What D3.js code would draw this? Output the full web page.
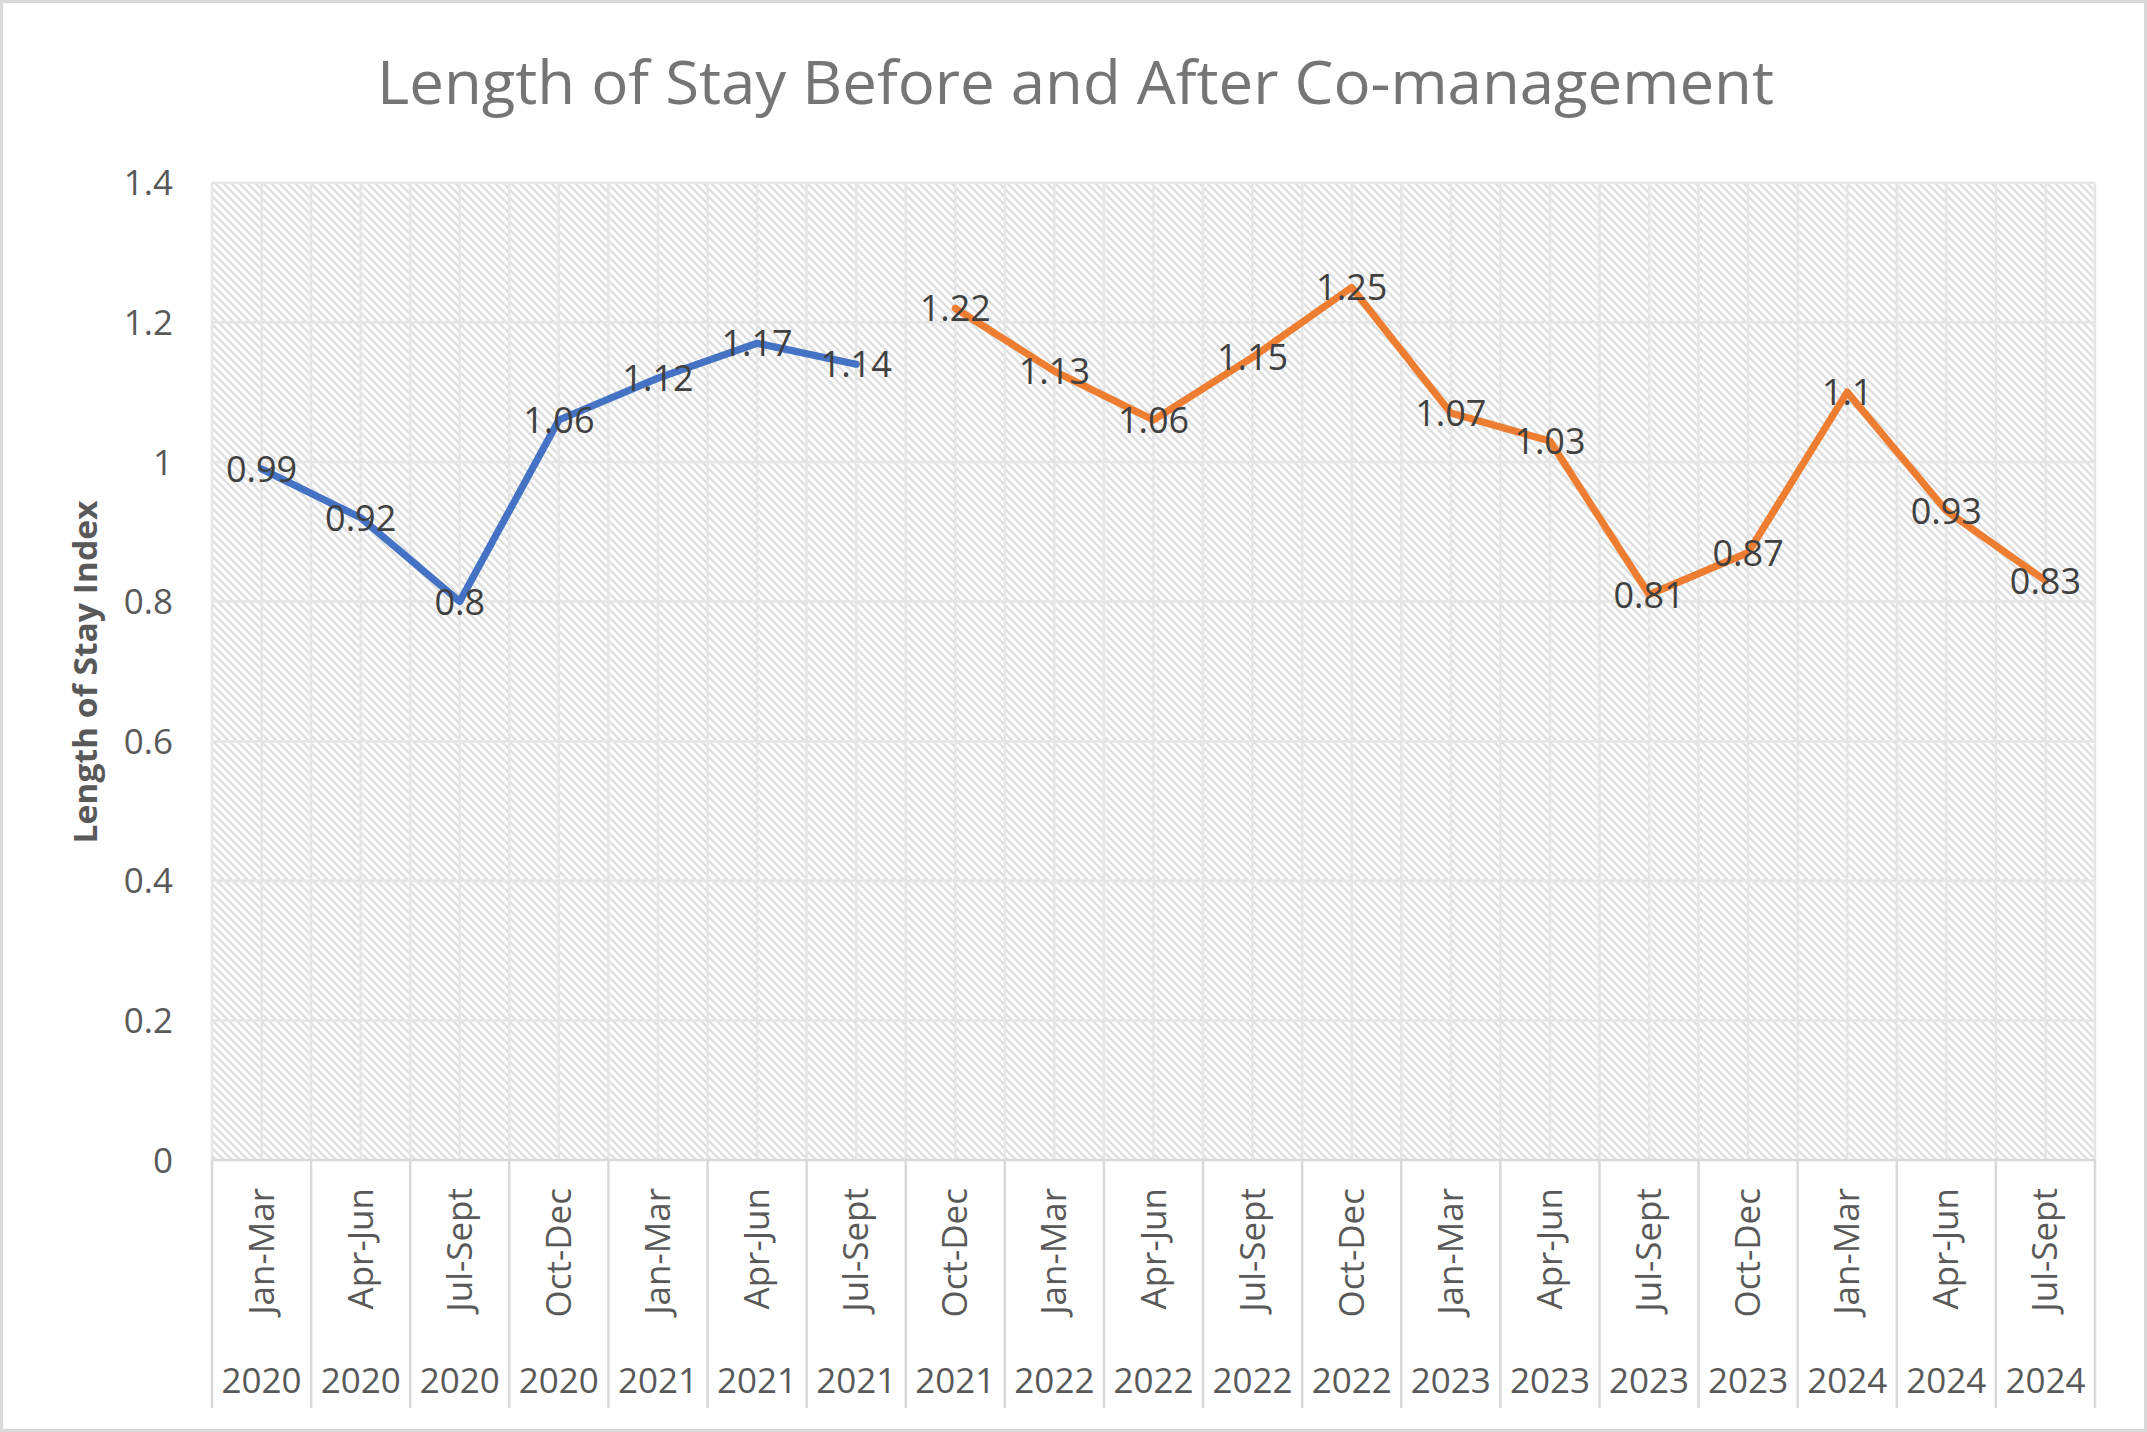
<!DOCTYPE html>
<html>
<head>
<meta charset="utf-8">
<script src="https://cdn.jsdelivr.net/npm/d3@7"></script>
<style>
    html, body { margin: 0; padding: 0; background: #fff; }
    svg { display: block; }
    text { font-family: "Open Sans", sans-serif; }
</style>
</head>
<body>
<svg id="chart" width="2147" height="1432"></svg>
<script>
const W = 2147;
const H = 1432;

const TITLE = "Length of Stay Before and After Co-management";
const Y_TITLE = "Length of Stay Index";

const quarters = ["Jan-Mar", "Apr-Jun", "Jul-Sept", "Oct-Dec",
    "Jan-Mar", "Apr-Jun", "Jul-Sept", "Oct-Dec",
    "Jan-Mar", "Apr-Jun", "Jul-Sept", "Oct-Dec",
    "Jan-Mar", "Apr-Jun", "Jul-Sept", "Oct-Dec",
    "Jan-Mar", "Apr-Jun", "Jul-Sept"];
const years = ["2020", "2020", "2020", "2020",
    "2021", "2021", "2021", "2021",
    "2022", "2022", "2022", "2022",
    "2023", "2023", "2023", "2023",
    "2024", "2024", "2024"];

// before co-management (blue) and after (orange)
const before = [0.99, 0.92, 0.8, 1.06, 1.12, 1.17, 1.14,
    null, null, null, null, null, null, null, null, null, null, null, null];
const after = [null, null, null, null, null, null, null,
    1.22, 1.13, 1.06, 1.15, 1.25, 1.07, 1.03, 0.81, 0.87, 1.1, 0.93, 0.83];

const yTicks = [0, 0.2, 0.4, 0.6, 0.8, 1, 1.2, 1.4];

const plot = { left: 212, right: 2095, top: 182.7, bottom: 1160 };

const svg = d3.select("#chart");

// outer frame
svg.append("rect")
    .attr("x", 1.5).attr("y", 1.5)
    .attr("width", W - 3).attr("height", H - 3)
    .attr("fill", "#fff")
    .attr("stroke", "#d9d9d9")
    .attr("stroke-width", 3);

// hatch pattern for plot area
const defs = svg.append("defs");
const pat = defs.append("pattern")
    .attr("id", "hatch")
    .attr("patternUnits", "userSpaceOnUse")
    .attr("width", 8).attr("height", 8);
pat.append("rect").attr("width", 8).attr("height", 8).attr("fill", "#fff");
pat.append("path")
    .attr("d", "M-2,-2 L10,10 M-2,6 L2,10 M6,-2 L10,2")
    .attr("stroke", "#dedede")
    .attr("stroke-width", 2.3);

const x = d3.scaleBand()
    .domain(d3.range(quarters.length))
    .range([plot.left, plot.right])
    .padding(0);
const y = d3.scaleLinear()
    .domain([0, 1.4])
    .range([plot.bottom, plot.top]);
const cx = i => x(i) + x.bandwidth() / 2;

svg.append("rect")
    .attr("x", plot.left).attr("y", plot.top)
    .attr("width", plot.right - plot.left)
    .attr("height", plot.bottom - plot.top)
    .attr("fill", "url(#hatch)");

// gridlines
const grid = svg.append("g").attr("stroke", "#e6e6e6").attr("stroke-width", 2.5);
yTicks.filter(t => t > 0).forEach(t => {
    grid.append("line")
        .attr("x1", plot.left).attr("x2", plot.right)
        .attr("y1", y(t)).attr("y2", y(t));
});
const vLines = [];
d3.range(quarters.length).forEach(i => { vLines.push(x(i)); vLines.push(cx(i)); });
vLines.push(plot.right);
vLines.forEach(vx => {
    grid.append("line")
        .attr("x1", vx).attr("x2", vx)
        .attr("y1", plot.top).attr("y2", plot.bottom);
});

// x axis with two-level labels
const axisG = svg.append("g").attr("stroke", "#d9d9d9").attr("stroke-width", 2.5);
axisG.append("line")
    .attr("x1", plot.left).attr("x2", plot.right)
    .attr("y1", plot.bottom).attr("y2", plot.bottom);
d3.range(quarters.length + 1).forEach(i => {
    const bx = i < quarters.length ? x(i) : plot.right;
    axisG.append("line")
        .attr("x1", bx).attr("x2", bx)
        .attr("y1", plot.bottom).attr("y2", 1408);
});

svg.append("g").selectAll("text")
    .data(quarters)
    .join("text")
    .attr("transform", (d, i) => `translate(${cx(i) + 12},1188) rotate(-90)`)
    .attr("text-anchor", "end")
    .attr("font-size", 35)
    .attr("fill", "#595959")
    .text(d => d);

svg.append("g").selectAll("text")
    .data(years)
    .join("text")
    .attr("x", (d, i) => cx(i))
    .attr("y", 1393)
    .attr("text-anchor", "middle")
    .attr("font-size", 35)
    .attr("fill", "#595959")
    .text(d => d);

// y axis labels
svg.append("g").selectAll("text")
    .data(yTicks)
    .join("text")
    .attr("x", 173)
    .attr("y", d => y(d))
    .attr("dy", "0.36em")
    .attr("text-anchor", "end")
    .attr("font-size", 35)
    .attr("fill", "#595959")
    .text(d => d3.format("~g")(d));

svg.append("text")
    .attr("transform", `translate(97,672) rotate(-90)`)
    .attr("text-anchor", "middle")
    .attr("font-size", 32)
    .attr("font-weight", "bold")
    .attr("fill", "#595959")
    .attr("textLength", 343)
    .attr("lengthAdjust", "spacingAndGlyphs")
    .text(Y_TITLE);

// title
svg.append("text")
    .attr("x", (plot.left + plot.right) / 2 - 78)
    .attr("y", 104)
    .attr("text-anchor", "middle")
    .attr("font-size", 60)
    .attr("fill", "#757575")
    .attr("textLength", 1397)
    .attr("lengthAdjust", "spacingAndGlyphs")
    .text(TITLE);

// lines
const series = [
    { values: before, color: "#4472c4" },
    { values: after, color: "#ed7d31" }
];
const line = d3.line()
    .defined(d => d != null)
    .x((d, i) => cx(i))
    .y(d => y(d));

series.forEach(s => {
    svg.append("path")
        .datum(s.values)
        .attr("d", line)
        .attr("fill", "none")
        .attr("stroke", s.color)
        .attr("stroke-width", 7.2)
        .attr("stroke-linejoin", "round")
        .attr("stroke-linecap", "round");
});

// data labels, centred on points
series.forEach(s => {
    svg.append("g").selectAll("text")
        .data(s.values.map((v, i) => ({ v, i })).filter(d => d.v != null))
        .join("text")
        .attr("x", d => cx(d.i))
        .attr("y", d => y(d.v))
        .attr("dy", "0.36em")
        .attr("text-anchor", "middle")
        .attr("font-size", 36)
        .attr("fill", "#404040")
        .text(d => d3.format("~g")(d.v));
});
</script>
</body>
</html>
